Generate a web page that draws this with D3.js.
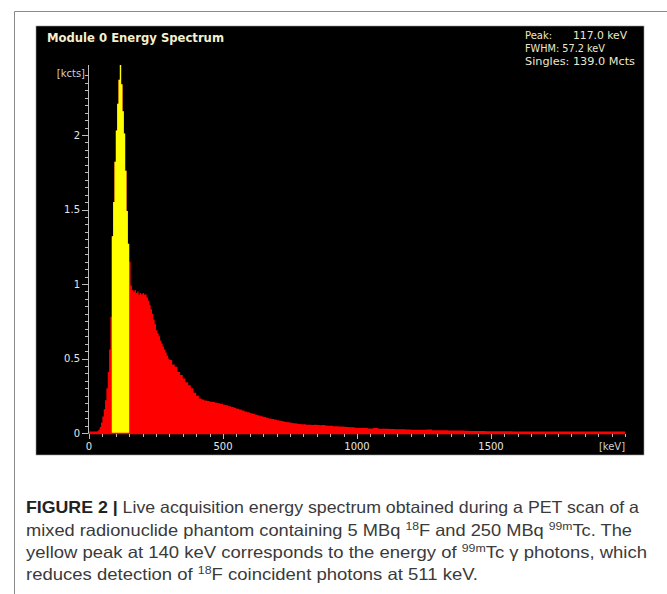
<!DOCTYPE html>
<html><head><meta charset="utf-8">
<script src="https://cdn.jsdelivr.net/npm/d3@7/dist/d3.min.js"></script>
<style>html,body{margin:0;padding:0;background:#fff;}svg{display:block;}</style>
</head><body>
<svg id="c" width="667" height="594"></svg>
<script>
// ---------- data ----------
const binStartKeV = [
  0,5,10,15,20,25,30,35,40,45,50,55,60,65,70,75,80,85,90,95,
  100,105,110,115,120,125,130,135,140,145,150,155,160,165,170,175,180,185,190,195,
  200,205,210,215,220,225,230,235,240,245,250,255,260,265,270,275,280,285,290,295,
  300,310,320,330,340,350,360,370,380,390,400,410,420,430,440,450,460,470,480,490,
  500,510,520,530,540,550,560,570,580,590,600,610,620,630,640,650,660,670,680,690,
  700,710,720,730,740,750,760,770,780,790,800,810,820,830,840,850,860,870,880,890,
  900,910,920,930,940,950,960,970,980,990,
  1000,1020,1040,1060,1080,1100,1120,1140,1160,1180,1200,1220,1240,1260,1280,1300,1320,1340,1360,1380,
  1400,1420,1440,1460,1480,1500,1520,1540,1560,1580,1600,1620,1640,1660,1680,1700,1720,1740,1760,1780,
  1800,1820,1840,1860,1880,1900,1920,1940,1960,1980
];
const binEndKeV = 2000;
const countsKcts = [
  0,0,0,0,0.002,0.005,0.012,0.022,0.04,0.07,0.11,0.16,0.22,0.30,0.41,0.56,0.78,1.32,1.55,1.82,
  2.03,2.21,2.37,2.47,2.34,2.16,2.01,1.76,1.49,1.27,1.15,0.99,0.96,0.95,0.96,0.94,0.95,0.93,0.94,0.93,
  0.94,0.93,0.93,0.91,0.89,0.86,0.83,0.80,0.76,0.73,0.69,0.67,0.65,0.62,0.60,0.58,0.56,0.54,0.52,0.50,
  0.49,0.46,0.445,0.41,0.39,0.365,0.34,0.32,0.30,0.27,0.25,0.232,0.225,0.218,0.215,0.21,0.208,0.203,0.20,0.196,
  0.19,0.186,0.18,0.174,0.17,0.163,0.157,0.151,0.145,0.139,0.133,0.129,0.122,0.118,0.112,0.107,0.103,0.098,0.094,0.09,
  0.086,0.082,0.079,0.074,0.072,0.068,0.066,0.063,0.061,0.059,0.058,0.056,0.056,0.054,0.055,0.053,0.052,0.053,0.05,0.049,
  0.048,0.046,0.046,0.044,0.043,0.042,0.041,0.039,0.038,0.036,
  0.034,0.033,0.031,0.033,0.029,0.028,0.027,0.025,0.025,0.023,0.022,0.021,0.022,0.023,0.019,0.019,0.018,0.017,0.016,0.016,
  0.015,0.014,0.014,0.013,0.012,0.012,0.011,0.011,0.012,0.010,0.010,0.009,0.009,0.009,0.008,0.008,0.008,0.007,0.007,0.007,
  0.007,0.006,0.006,0.006,0.006,0.006,0.005,0.005,0.005,0.005
];
const tcWindowKeV = [85, 150];           // yellow 99mTc window
const xMajorTicks = [0, 500, 1000, 1500];
const yMajorTicks = [0, 0.5, 1, 1.5, 2];
const titleText = "Module 0 Energy Spectrum";
const infoLabels = ["Peak:", "FWHM:", "Singles:"];
const infoValues = ["117.0 keV", "57.2 keV", "139.0 Mcts"];

// ---------- drawing ----------
const svg = d3.select("#c");
// figure frame lines
svg.append("line").attr("x1",14.5).attr("y1",11.5).attr("x2",667).attr("y2",11.5).attr("stroke","#8a8a8a");
svg.append("line").attr("x1",14.5).attr("y1",11.5).attr("x2",14.5).attr("y2",594).attr("stroke","#8a8a8a");

// black panel
svg.append("rect").attr("x",36).attr("y",26).attr("width",608).attr("height",429)
  .attr("fill","#000").attr("stroke","#9a9a9a").attr("stroke-width",0.6);

const x = d3.scaleLinear().domain([0, 2000]).range([89, 625]);
const y = d3.scaleLinear().domain([0, 2.5]).range([433, 60.5]);

const pts = binStartKeV.map((e,i)=>({e, v: countsKcts[i]}));
pts.push({e: binEndKeV, v: countsKcts[countsKcts.length-1]});

const area = d3.area().curve(d3.curveStepAfter)
  .x(d=>x(d.e)).y0(y(0)).y1(d=>Math.min(y(0)-1.5, y(d.v)));

svg.append("path").datum(pts).attr("d", area).attr("fill","#ff0000");

const win = binStartKeV.map((e,i)=>({e, v: countsKcts[i]}))
  .filter(d=>d.e>=tcWindowKeV[0] && d.e<tcWindowKeV[1]);
win.push({e: tcWindowKeV[1], v: win[win.length-1].v});
svg.append("path").datum(win).attr("d", area).attr("fill","#ffff00");

const axisCol = "#bdbdbd", labCol = "#e6e6e6";
// y axis
const ya = svg.append("g");
ya.append("line").attr("x1",88.5).attr("x2",88.5).attr("y1",y(0)).attr("y2",y(2.47)).attr("stroke",axisCol);
const yMinor = d3.range(0, 49).map(i=>i*0.05);
ya.selectAll("line.mn").data(yMinor).join("line").attr("class","mn")
  .attr("x1",85).attr("x2",88.5).attr("y1",d=>Math.round(y(d))+0.5).attr("y2",d=>Math.round(y(d))+0.5)
  .attr("stroke",axisCol);
ya.selectAll("line.mj").data(yMajorTicks).join("line").attr("class","mj")
  .attr("x1",82).attr("x2",88.5).attr("y1",d=>Math.round(y(d))+0.5).attr("y2",d=>Math.round(y(d))+0.5)
  .attr("stroke",axisCol);
ya.selectAll("text").data(yMajorTicks).join("text")
  .attr("x",80).attr("y",d=>y(d)+3.5).attr("text-anchor","end")
  .attr("font-family","DejaVu Sans").attr("font-size",10).attr("fill",labCol).text(d=>d);
svg.append("text").attr("x",85).attr("y",77).attr("text-anchor","end")
  .attr("font-family","DejaVu Sans").attr("font-size",10).attr("fill","#cfcfcf").text("[kcts]");

// x axis
const xa = svg.append("g");
xa.append("line").attr("x1",x(0)).attr("x2",x(2000)).attr("y1",433.5).attr("y2",433.5).attr("stroke","#ff0000").attr("stroke-width",1.5);
const xMinor = d3.range(0, 41).map(i=>i*50);
xa.selectAll("line.mn").data(xMinor).join("line").attr("class","mn")
  .attr("x1",d=>Math.round(x(d))+0.5).attr("x2",d=>Math.round(x(d))+0.5).attr("y1",434).attr("y2",437)
  .attr("stroke",axisCol);
xa.selectAll("line.mj").data(xMajorTicks).join("line").attr("class","mj")
  .attr("x1",d=>Math.round(x(d))+0.5).attr("x2",d=>Math.round(x(d))+0.5).attr("y1",434).attr("y2",439)
  .attr("stroke",axisCol);
xa.selectAll("text").data(xMajorTicks).join("text")
  .attr("x",d=>x(d)).attr("y",450).attr("text-anchor","middle")
  .attr("font-family","DejaVu Sans").attr("font-size",10).attr("fill",labCol).text(d=>d);
svg.append("text").attr("x",612).attr("y",450).attr("text-anchor","middle")
  .attr("font-family","DejaVu Sans").attr("font-size",10).attr("fill","#cfcfcf").text("[keV]");

// title and info
svg.append("text").attr("x",47).attr("y",42).attr("font-family","DejaVu Sans").attr("font-weight","bold")
  .attr("font-size",11.5).attr("textLength",177).attr("lengthAdjust","spacingAndGlyphs")
  .attr("fill","#f3efcf").text(titleText);
const infoY = [39, 52, 65];
infoLabels.forEach((l,i)=>{
  const t = svg.append("text").attr("x",525).attr("y",infoY[i]).attr("font-family","DejaVu Sans")
    .attr("font-size",10).attr("fill","#ece8cc");
  if(i===0){
    t.text(l);
    svg.append("text").attr("x",573).attr("y",infoY[i]).attr("font-family","DejaVu Sans")
      .attr("font-size",10).attr("fill","#ece8cc").attr("textLength",54).attr("lengthAdjust","spacingAndGlyphs").text(infoValues[i]);
  } else {
    t.attr("textLength", i===1?80:110).attr("lengthAdjust","spacingAndGlyphs").text(l+" "+infoValues[i]);
  }
});

// caption
const capFont = "Liberation Sans", capSize = 16.5, capCol = "#3a3a3a";
function capLine(yb, len, parts){
  const t = svg.append("text").attr("x",26).attr("y",yb).attr("font-family",capFont)
    .attr("font-size",capSize).attr("fill",capCol).attr("textLength",len).attr("lengthAdjust","spacingAndGlyphs");
  parts.forEach(p=>{
    const s = t.append("tspan").text(p.t);
    if(p.b) s.attr("font-weight","bold").attr("fill","#222");
    if(p.sup) s.attr("font-size",11).attr("baseline-shift","55%");
  });
}
capLine(513, 613, [{t:"FIGURE 2 |", b:true},{t:" Live acquisition energy spectrum obtained during a PET scan of a"}]);
capLine(536, 606, [{t:"mixed radionuclide phantom containing 5 MBq "},{t:"18",sup:true},{t:"F and 250 MBq "},{t:"99m",sup:true},{t:"Tc. The"}]);
capLine(558, 621, [{t:"yellow peak at 140 keV corresponds to the energy of "},{t:"99m",sup:true},{t:"Tc γ photons, which"}]);
capLine(580, 452, [{t:"reduces detection of "},{t:"18",sup:true},{t:"F coincident photons at 511 keV."}]);
</script>
</body></html>
